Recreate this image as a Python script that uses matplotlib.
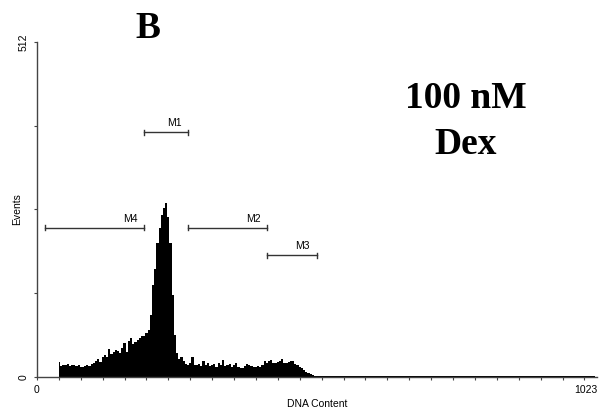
import numpy as np
import matplotlib
matplotlib.use('Agg')
import matplotlib.pyplot as plt

# histograma DNA (canales cada 4, desde 40 hasta 516)
canal_ini = 40
paso = 4
eventos = [23, 17, 19, 18, 20, 17, 19, 18, 17, 19, 16,
           15, 17, 18, 17, 20,
           21, 24, 28, 23, 30, 33,
           30, 43, 35, 38, 41, 39, 37, 45, 52, 38, 55, 59, 50, 54, 56, 60, 62, 63,
           67, 72, 95, 140, 165, 205, 228, 248, 258, 266, 245, 205, 125, 64, 37,
           28, 30, 24, 20, 18, 22, 30, 19, 18, 20, 17, 25, 18, 21, 17, 19, 20, 16,
           21, 19, 26, 17, 18, 20, 16, 18, 22, 16, 14, 13, 17, 20, 19, 17, 16, 15,
           17, 16, 19, 24, 22, 24, 26, 22, 21, 23, 25, 27, 22, 21, 23, 25, 24, 20,
           18, 15, 13, 11, 8, 6, 4, 3, 2, 2, 2]

# cola (canales cada 20, desde 520)
cola_ini = 520
cola_paso = 20
eventos_cola = [2, 1, 2, 1, 1, 2, 2, 1, 1, 2, 2, 1, 1, 2, 1, 1, 1, 2, 1, 1,
                2, 1, 1, 1, 1, 1]

# marcadores M1..M4
marcas = ['M1', 'M4', 'M2', 'M3']
marca_ini = [196, 15, 276, 420]
marca_fin = [276, 196, 420, 511]
marca_y = [374, 228, 228, 186]

canales = np.concatenate([canal_ini + paso * np.arange(len(eventos)),
                          cola_ini + cola_paso * np.arange(len(eventos_cola))])
valores = np.concatenate([eventos, eventos_cola])

fig = plt.figure(figsize=(6.01, 4.11), dpi=100)
ax = fig.add_axes([37 / 601, 34 / 411, 560 / 601, 335 / 411])

ax.fill_between(canales, valores, step='mid', color='black', lw=0)

ax.set_xlim(0, 1023)
ax.set_ylim(0, 512)

gris = '#444444'
for s in ['top', 'right']:
    ax.spines[s].set_visible(False)
for s in ['left', 'bottom']:
    ax.spines[s].set_color(gris)
    ax.spines[s].set_linewidth(1)

ax.set_xticks(np.arange(0, 1024, 40))
ax.set_yticks([0, 128, 256, 384, 512])
ax.set_xticklabels([])
ax.set_yticklabels([])
ax.tick_params(length=2.5, width=0.8, color=gris, direction='out')

fuente = 'Liberation Sans'
fs = 7.5
ax.text(0, -0.025, '0', transform=ax.transAxes, ha='center', va='top', fontsize=fs, family=fuente)
ax.text(1, -0.025, '1023', transform=ax.transAxes, ha='right', va='top', fontsize=fs, family=fuente)
ax.text(-0.015, 0, '0', transform=ax.transAxes, ha='right', va='center', rotation=90, fontsize=fs, family=fuente)
ax.text(-0.015, 1, '512', transform=ax.transAxes, ha='right', va='center', rotation=90, fontsize=fs, family=fuente)
ax.text(0.5, -0.065, 'DNA Content', transform=ax.transAxes, ha='center', va='top', fontsize=fs, family=fuente)
ax.text(-0.027, 0.5, 'Events', transform=ax.transAxes, ha='right', va='center', rotation=90, fontsize=fs, family=fuente)

# marcadores
for nombre, x0, x1, y in zip(marcas, marca_ini, marca_fin, marca_y):
    ax.plot([x0, x1], [y, y], color='#333333', lw=1)
    ax.plot([x0, x0], [y - 4, y + 4], color='#333333', lw=1)
    ax.plot([x1, x1], [y - 4, y + 4], color='#333333', lw=1)
    ax.annotate(nombre, (x1, y), xytext=(-10, 3), textcoords='offset points',
                ha='center', va='bottom', fontsize=fs, family=fuente)

fig.text(148 / 601, 1 - 28 / 411, 'B', ha='center', va='center', fontsize=27,
         fontweight='bold', family='Liberation Serif')
fig.text(466 / 601, 1 - 98 / 411, '100 nM', ha='center', va='center', fontsize=27,
         fontweight='bold', family='Liberation Serif')
fig.text(466 / 601, 1 - 145 / 411, 'Dex', ha='center', va='center', fontsize=27,
         fontweight='bold', family='Liberation Serif')

fig.savefig('out.png', dpi=100)
